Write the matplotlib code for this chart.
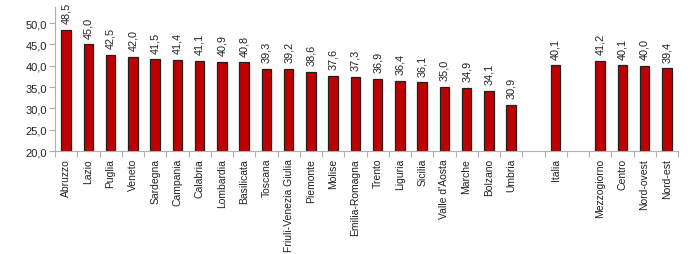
import matplotlib
matplotlib.use("Agg")
import matplotlib.pyplot as plt
import numpy as np

plt.rcParams['font.family'] = ['Liberation Sans', 'DejaVu Sans']

# regions, then Italia, then macro areas ('' = empty slot)
labels = ['Abruzzo', 'Lazio', 'Puglia', 'Veneto', 'Sardegna', 'Campania', 'Calabria',
          'Lombardia', 'Basilicata', 'Toscana', 'Friuli-Venezia Giulia', 'Piemonte',
          'Molise', 'Emilia-Romagna', 'Trento', 'Liguria', 'Sicilia', "Valle d'Aosta",
          'Marche', 'Bolzano', 'Umbria', '', 'Italia', '',
          'Mezzogiorno', 'Centro', 'Nord-ovest', 'Nord-est']
values = [48.5, 45.0, 42.5, 42.0, 41.5, 41.4, 41.1, 40.9, 40.8, 39.3, 39.2, 38.6,
          37.6, 37.3, 36.9, 36.4, 36.1, 35.0, 34.9, 34.1, 30.9, None, 40.1, None,
          41.2, 40.1, 40.0, 39.4]

ymin, ymax = 20, 53.8

fig = plt.figure(figsize=(7, 2.55), dpi=100)
ax = fig.add_axes([55/700, 1 - 152/255, (678 - 55)/700, (152 - 8)/255])

x = np.arange(len(labels))
for xi, v in zip(x, values):
    if v is None:
        continue
    ax.bar(xi, v - ymin, bottom=ymin, width=0.42, color='#C00000',
           edgecolor='#202020', linewidth=0.9, zorder=2)
    ax.text(xi, v + 1.6, f'{v:.1f}'.replace('.', ','), rotation=90,
            ha='center', va='bottom', fontsize=7.8, color='#222222')

ax.set_xlim(-0.5, len(labels) - 0.5)
ax.set_ylim(ymin, ymax)

ax.set_yticks(np.arange(20, 50.1, 5))
ax.set_yticklabels([f'{t:.1f}'.replace('.', ',') for t in np.arange(20, 50.1, 5)],
                   fontsize=8, color='#222222')

# category labels without tick marks, ticks at slot boundaries
ax.set_xticks(x)
ax.set_xticklabels(labels, rotation=90, fontsize=7.5, color='#222222')
ax.tick_params(axis='x', length=0, pad=5)
ax.set_xticks(np.arange(-0.5, len(labels)), minor=True)
ax.tick_params(axis='x', which='minor', length=4, color='#b0b0b0', width=0.8)
ax.tick_params(axis='y', length=4, color='#b0b0b0', width=0.8, pad=2)

for s in ['top', 'right']:
    ax.spines[s].set_visible(False)
for s in ['left', 'bottom']:
    ax.spines[s].set_color('#b0b0b0')
    ax.spines[s].set_linewidth(0.8)

fig.savefig('out.png', dpi=100)
